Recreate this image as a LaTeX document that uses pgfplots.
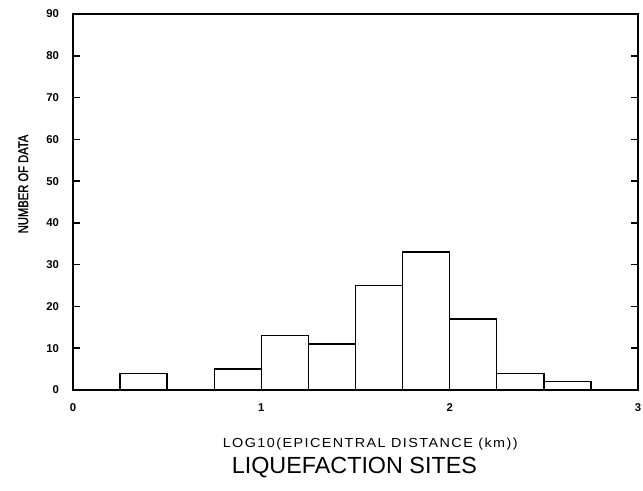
\documentclass[border=0pt]{standalone}
\usepackage{fontspec}
\setmainfont{Liberation Sans}
\newfontfamily\narrowfont[FakeStretch=0.8, FakeBold=1.5]{Liberation Sans}
\newfontfamily\widefont[FakeStretch=1.1, LetterSpace=11]{Liberation Sans}
\usepackage{pgfplots}
\pgfplotsset{compat=1.18}
\begin{document}
\begin{tikzpicture}
\begin{axis}[
  scale only axis,
  width=423.75pt, height=282pt,
  xmin=0, xmax=3, ymin=0, ymax=90,
  xtick={0,1,2,3}, ytick={0,10,...,90},
  xtick pos=lower, ytick pos=both,
  tick align=inside,
  major tick length=5pt,
  axis line style={line width=1.5pt},
  every tick/.style={line width=1.2pt, black},
  /pgf/number format/assume math mode=true,
  ticklabel style={font=\bfseries\fontsize{8.5}{9}\selectfont},
  xticklabel style={yshift=-7pt},
  yticklabel style={xshift=-7pt},
  clip=false,
]
\addplot[ybar, bar width=0.25, bar shift=0, draw=black, line width=1.1pt, fill=none]
  coordinates {(0.375,4) (0.875,5) (1.125,13) (1.375,11) (1.625,25) (1.875,33) (2.125,17) (2.375,4) (2.625,2)};
\node[font=\narrowfont\fontsize{10.5}{12}\selectfont, rotate=90] at (axis description cs:-0.088,0.548) {NUMBER OF DATA};
\node[font=\widefont\fontsize{9.8}{11}\selectfont] at (axis description cs:0.526,-0.144) {LOG10(EPICENTRAL DISTANCE (km))};
\node[font=\fontsize{17.5}{20}\selectfont] at (axis description cs:0.498,-0.205) {LIQUEFACTION SITES};
\end{axis}
\pgfresetboundingbox
\path[use as bounding box] ([shift={(-54.75pt,-75.75pt)}]current axis.south west) rectangle ([shift={(3.75pt,10.5pt)}]current axis.north east);
\end{tikzpicture}
\end{document}
